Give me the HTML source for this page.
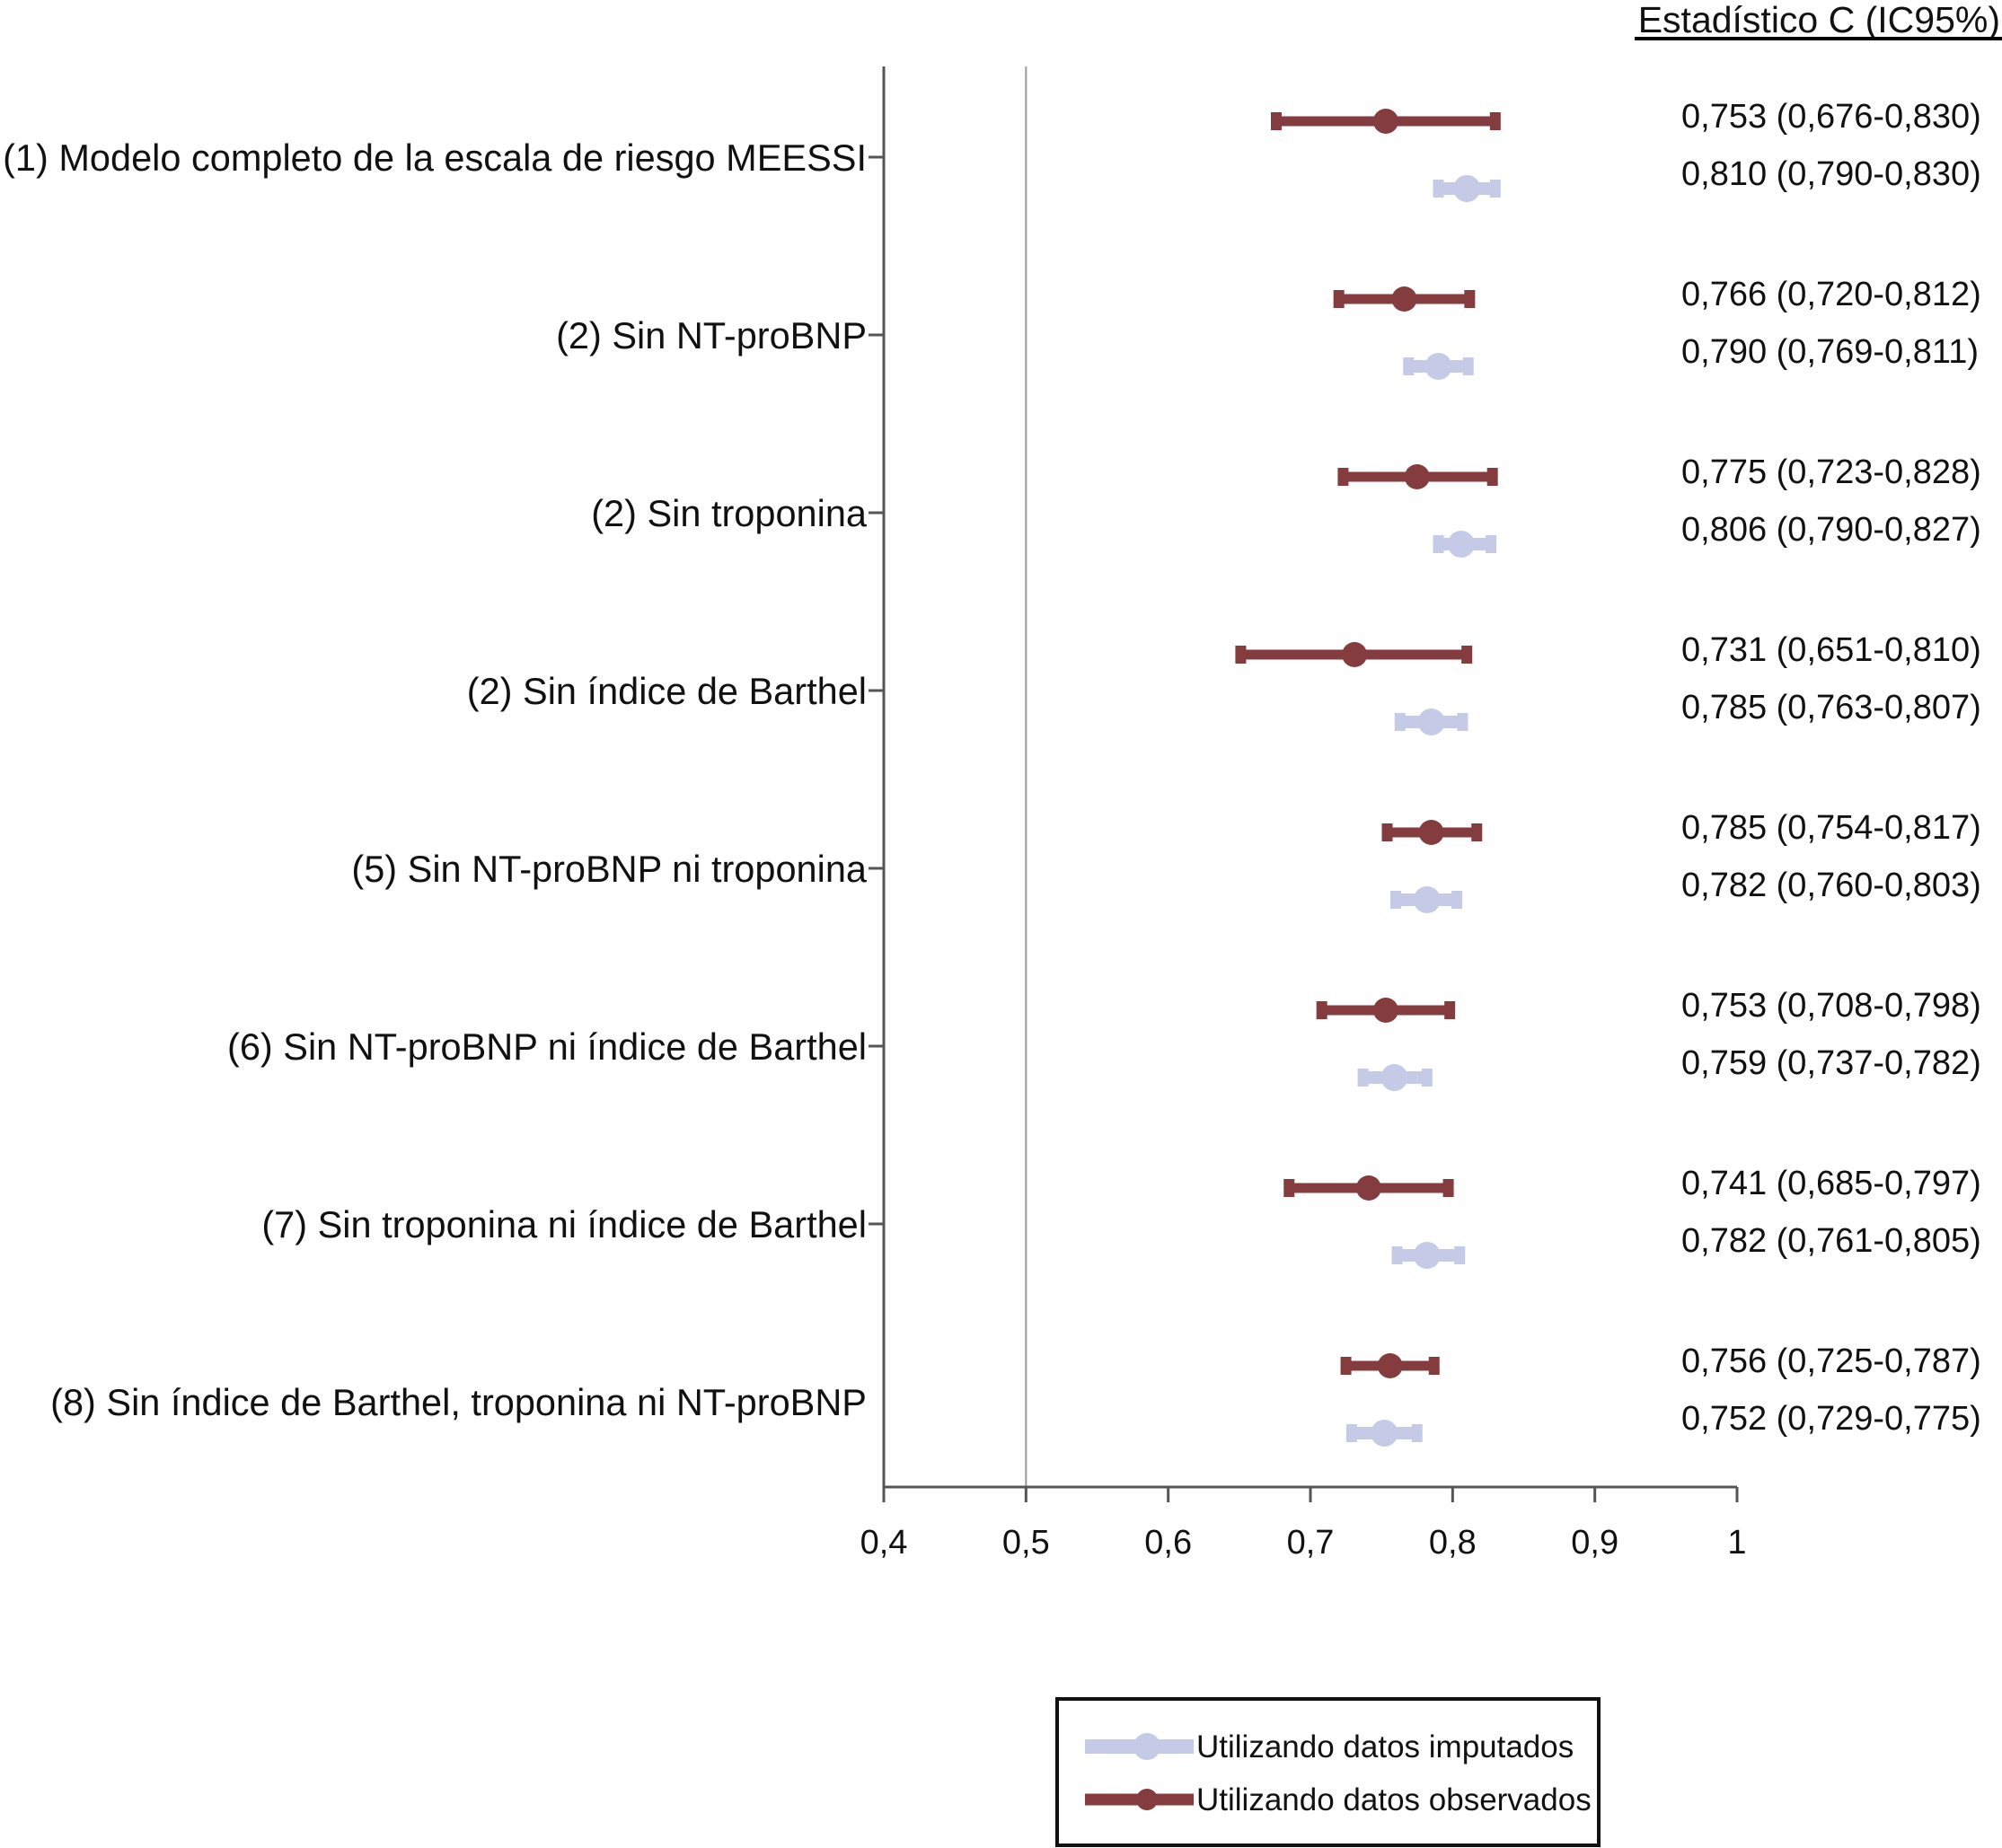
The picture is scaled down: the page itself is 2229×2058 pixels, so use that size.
<!DOCTYPE html>
<html><head><meta charset="utf-8"><style>
body{margin:0;background:#fff}
svg{display:block;font-family:"Liberation Sans",Arial,sans-serif}
</style></head><body>
<svg id="chart" width="2229" height="2058" viewBox="0 0 2229 2058" xmlns="http://www.w3.org/2000/svg">
<g id="layer"></g>
</svg>
<script>
const categories=["(1) Modelo completo de la escala de riesgo MEESSI","(2) Sin NT-proBNP","(2) Sin troponina","(2) Sin índice de Barthel","(5) Sin NT-proBNP ni troponina","(6) Sin NT-proBNP ni índice de Barthel","(7) Sin troponina ni índice de Barthel","(8) Sin índice de Barthel, troponina ni NT-proBNP"];
const obsEst=[0.753,0.766,0.775,0.731,0.785,0.753,0.741,0.756];
const obsLo=[0.676,0.720,0.723,0.651,0.754,0.708,0.685,0.725];
const obsHi=[0.830,0.812,0.828,0.810,0.817,0.798,0.797,0.787];
const impEst=[0.810,0.790,0.806,0.785,0.782,0.759,0.782,0.752];
const impLo=[0.790,0.769,0.790,0.763,0.760,0.737,0.761,0.729];
const impHi=[0.830,0.811,0.827,0.807,0.803,0.782,0.805,0.775];
const xTicks=[0.4,0.5,0.6,0.7,0.8,0.9,1];
const xTickLabels=["0,4","0,5","0,6","0,7","0,8","0,9","1"];
const fmt=v=>v.toFixed(3).replace('.',',');
const NS="http://www.w3.org/2000/svg";
const g=document.getElementById('layer');
function el(tag,attrs,txt){const e=document.createElementNS(NS,tag);for(const k in attrs)e.setAttribute(k,attrs[k]);if(txt!==undefined)e.textContent=txt;g.appendChild(e);return e;}
const X0=984,X1=1934,Y0=74,Y1=1656;
const x=v=>X0+(v-0.4)/(1-0.4)*(X1-X0);
const catY=i=>175+i*198;
const OBS="#843c3f",IMP="#c5cbe6";
let e;
e=el('line',{x1:x(0.5),x2:x(0.5),y1:Y0,y2:Y1,stroke:'#999','stroke-width':2});


e=el('line',{x1:X0,x2:X0,y1:Y0,y2:Y1,stroke:'#555','stroke-width':3});


e=el('line',{x1:X0,x2:X1,y1:Y1,y2:Y1,stroke:'#555','stroke-width':3});


xTicks.forEach((t,i)=>{
  e=el('line',{x1:x(t),x2:x(t),y1:Y1,y2:Y1+17,stroke:'#555','stroke-width':3});
  
  
  e=el('text',{x:x(t),y:1730,'font-size':38,'text-anchor':'middle',fill:'#111'},xTickLabels[i]);
  
  
});
e=el('text',{x:2227,y:36,'font-size':41,'text-anchor':'end',fill:'#111'},'Estadístico C (IC95%)');


e=el('line',{x1:1820,x2:2229,y1:43,y2:43,stroke:'#000','stroke-width':4});


function bar(y,lo,hi,est,col,th,capH,r,name){
  e=el('line',{x1:x(lo),x2:x(hi),y1:y,y2:y,stroke:col,'stroke-width':th});
  
  
  [lo,hi].forEach(v=>{
    e=el('rect',{x:x(v)-6,y:y-capH/2,width:12,height:capH,fill:col});
    
    
  });
  e=el('circle',{cx:x(est),cy:y,r:r,fill:col});
  
  
}
categories.forEach((c,i)=>{
  const cy=catY(i);
  if(i<7){
    e=el('line',{x1:X0-17,x2:X0,y1:cy,y2:cy,stroke:'#555','stroke-width':3});
    
    
  }
  e=el('text',{x:965,y:cy+15,'font-size':41.5,'text-anchor':'end',fill:'#111'},c);
  
  
  bar(cy-40,obsLo[i],obsHi[i],obsEst[i],OBS,11,20,14,'observed');
  bar(cy+35,impLo[i],impHi[i],impEst[i],IMP,14,20,15,'imputed');
  e=el('text',{x:1872,y:cy-33,'font-size':38,fill:'#111'},fmt(obsEst[i])+' ('+fmt(obsLo[i])+'-'+fmt(obsHi[i])+')');
  
  
  e=el('text',{x:1872,y:cy+31,'font-size':38,fill:'#111'},fmt(impEst[i])+' ('+fmt(impLo[i])+'-'+fmt(impHi[i])+')');
  
  
});
e=el('rect',{x:1177,y:1892,width:603,height:163,fill:'#fff',stroke:'#111','stroke-width':4});


[[IMP,14,'Utilizando datos imputados',1945,'legend-imputed'],[OBS,11,'Utilizando datos observados',2004,'legend-observed']].forEach(a=>{
  e=el('line',{x1:1208,x2:1329,y1:a[3],y2:a[3],stroke:a[0],'stroke-width':a[1]+2});
  
  
  e=el('circle',{cx:1277,cy:a[3],r:a[1]+1,fill:a[0]});
  
  
  e=el('text',{x:1332,y:a[3]+12,'font-size':35,fill:'#111'},a[2]);
  
  
});
</script>
</body></html>
